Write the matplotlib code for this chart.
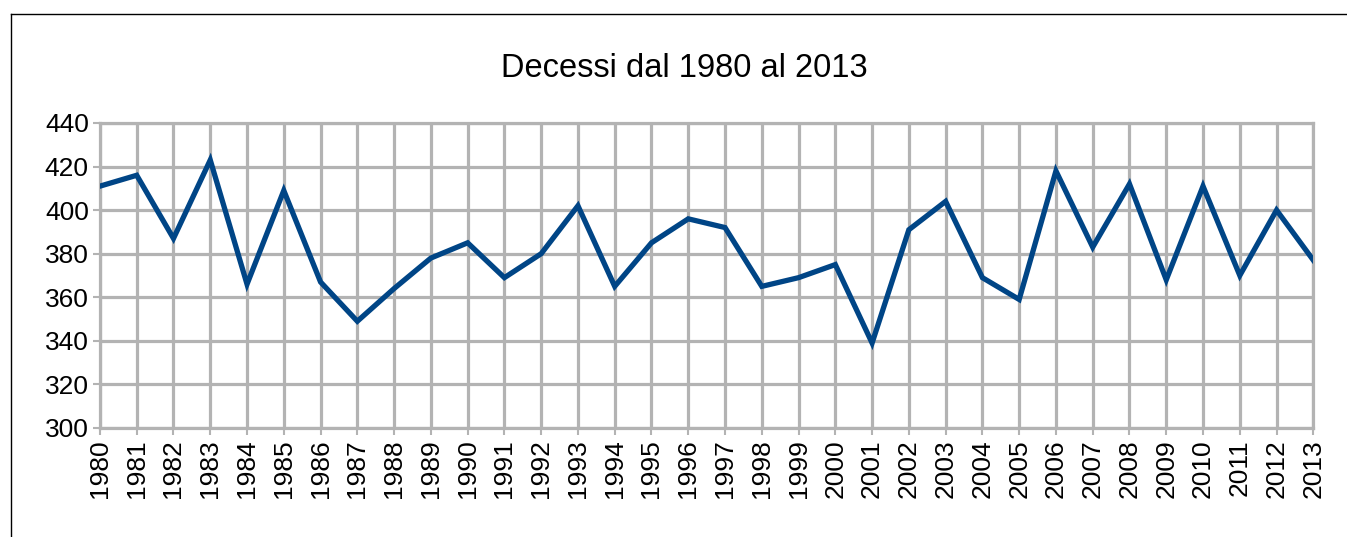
import matplotlib.pyplot as plt
from matplotlib.lines import Line2D

anni = list(range(1980, 2014))
decessi = [411, 416, 387, 423, 366, 409, 367, 349, 364, 378,
           385, 369, 380, 402, 365, 385, 396, 392, 365, 369,
           375, 339, 391, 404, 369, 359, 418, 383, 412, 368,
           411, 370, 400, 377]
y_ticks = [300, 320, 340, 360, 380, 400, 420, 440]

plt.rcParams['font.family'] = ['Liberation Sans', 'DejaVu Sans']

fig = plt.figure(figsize=(13.47, 5.37), dpi=100)
ax = fig.add_axes([0.0742, 0.203, 0.9008, 0.568])

grid_col = "#b3b3b3"
ax.plot(anni, decessi, color="#004586", linewidth=3.8, solid_joinstyle="miter", zorder=3)

ax.set_xlim(anni[0], anni[-1])
ax.set_ylim(y_ticks[0], y_ticks[-1])
ax.set_xticks(anni)
ax.set_xticklabels([str(a) for a in anni], rotation=90)
ax.set_yticks(y_ticks)
ax.grid(True, color=grid_col, linewidth=2.3)
ax.tick_params(axis="both", colors=grid_col, labelcolor="black",
               labelsize=19, length=5, width=1.5, pad=3)
for s in ax.spines.values():
    s.set_color(grid_col)
    s.set_linewidth(2.3)

fig.text(0.508, 0.873, "Decessi dal 1980 al 2013", ha="center", va="center", fontsize=23.5)

# cornice esterna (solo sinistra e sopra)
x0, y0 = 10.5 / 1347, 1 - 13.5 / 537
fig.add_artist(Line2D([x0, 1], [y0, y0], transform=fig.transFigure, color="black", linewidth=1))
fig.add_artist(Line2D([x0, x0], [0, y0], transform=fig.transFigure, color="black", linewidth=1))

fig.savefig("out.png", dpi=100)
plt.close(fig)
